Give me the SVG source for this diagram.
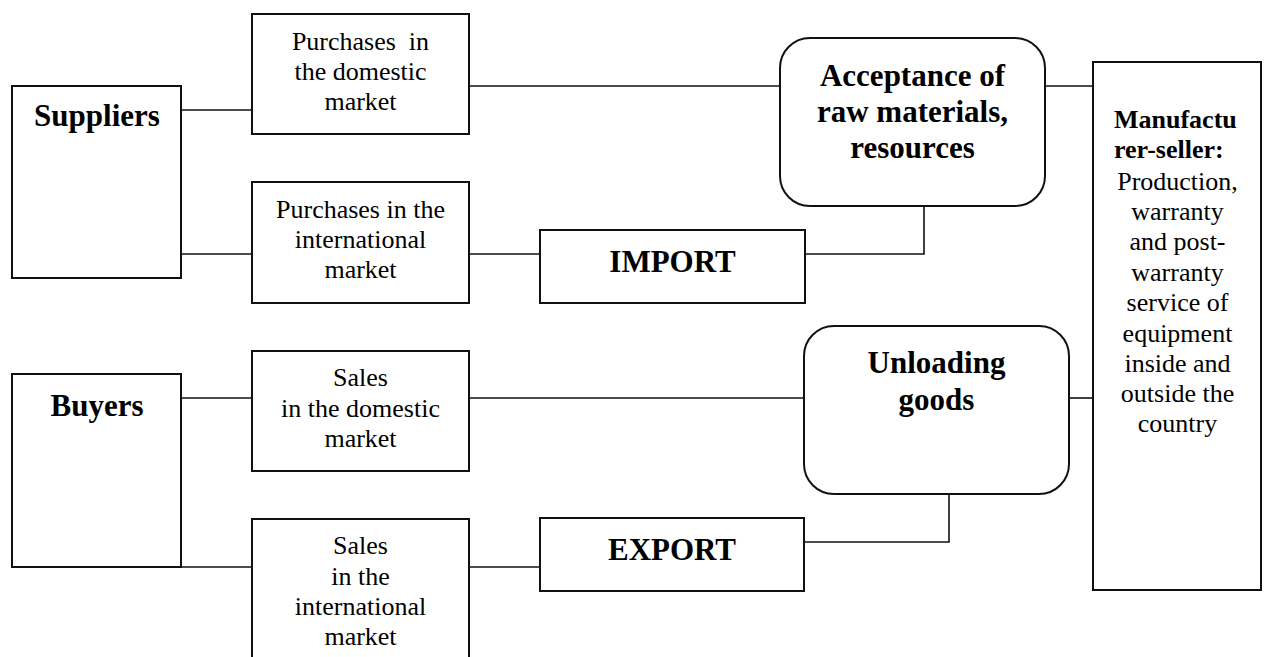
<svg xmlns="http://www.w3.org/2000/svg" width="1266" height="657" viewBox="0 0 1266 657">
  <style>
    .box { fill: #ffffff; stroke: #111111; stroke-width: 2; }
    .link { fill: none; stroke: #111111; stroke-width: 1.6; }
    .t { font-family: "Liberation Serif", "Times New Roman", serif; font-size: 26px; fill: #000000; text-anchor: middle; }
    .b { font-family: "Liberation Serif", "Times New Roman", serif; font-size: 31px; font-weight: bold; fill: #000000; text-anchor: middle; }
    .bs { font-family: "Liberation Serif", "Times New Roman", serif; font-size: 26px; font-weight: bold; fill: #000000; }
  </style>
  <rect width="1266" height="657" fill="#ffffff"/>

  <!-- connectors -->
  <g id="connectors">
    <path class="link" d="M181,110 H252"/>
    <path class="link" d="M181,254 H252"/>
    <path class="link" d="M469,86 H780"/>
    <path class="link" d="M469,254 H540"/>
    <path class="link" d="M805,254 H924 V206"/>
    <path class="link" d="M1045,86 H1093"/>
    <path class="link" d="M181,398 H252"/>
    <path class="link" d="M181,567 H252"/>
    <path class="link" d="M469,398 H804"/>
    <path class="link" d="M469,567 H540"/>
    <path class="link" d="M804,542 H949 V494"/>
    <path class="link" d="M1069,398 H1093"/>
  </g>

  <g id="suppliers">
    <rect class="box" x="12" y="86" width="169" height="192"/>
    <text class="b" x="97" y="126">Suppliers</text>
  </g>

  <g id="purchases-domestic">
    <rect class="box" x="252" y="14" width="217" height="120"/>
    <text class="t" x="360.5" y="50">Purchases&#160; in</text>
    <text class="t" x="360.5" y="80">the domestic</text>
    <text class="t" x="360.5" y="110">market</text>
  </g>

  <g id="purchases-international">
    <rect class="box" x="252" y="182" width="217" height="121"/>
    <text class="t" x="360.5" y="218">Purchases in the</text>
    <text class="t" x="360.5" y="248">international</text>
    <text class="t" x="360.5" y="278">market</text>
  </g>

  <g id="import">
    <rect class="box" x="540" y="230" width="265" height="73"/>
    <text class="b" x="672.5" y="272">IMPORT</text>
  </g>

  <g id="acceptance">
    <rect class="box" x="780" y="38" width="265" height="168" rx="30" ry="30"/>
    <text class="b" x="912.5" y="86">Acceptance of</text>
    <text class="b" x="912.5" y="122">raw materials,</text>
    <text class="b" x="912.5" y="158">resources</text>
  </g>

  <g id="manufacturer">
    <rect class="box" x="1093" y="62" width="168" height="528"/>
    <text class="bs" x="1114" y="128">Manufactu</text>
    <text class="bs" x="1114" y="158">rer-seller:</text>
    <text class="t" x="1177.5" y="190">Production,</text>
    <text class="t" x="1177.5" y="220">warranty</text>
    <text class="t" x="1177.5" y="250">and post-</text>
    <text class="t" x="1177.5" y="281">warranty</text>
    <text class="t" x="1177.5" y="311">service of</text>
    <text class="t" x="1177.5" y="342">equipment</text>
    <text class="t" x="1177.5" y="372">inside and</text>
    <text class="t" x="1177.5" y="402">outside the</text>
    <text class="t" x="1177.5" y="432">country</text>
  </g>

  <g id="buyers">
    <rect class="box" x="12" y="374" width="169" height="193"/>
    <text class="b" x="97" y="416">Buyers</text>
  </g>

  <g id="sales-domestic">
    <rect class="box" x="252" y="351" width="217" height="120"/>
    <text class="t" x="360.5" y="386">Sales</text>
    <text class="t" x="360.5" y="417">in the domestic</text>
    <text class="t" x="360.5" y="447">market</text>
  </g>

  <g id="sales-international">
    <rect class="box" x="252" y="519" width="217" height="160"/>
    <text class="t" x="360.5" y="554">Sales</text>
    <text class="t" x="360.5" y="585">in the</text>
    <text class="t" x="360.5" y="615">international</text>
    <text class="t" x="360.5" y="645">market</text>
  </g>

  <g id="export">
    <rect class="box" x="540" y="518" width="264" height="73"/>
    <text class="b" x="672" y="560">EXPORT</text>
  </g>

  <g id="unloading">
    <rect class="box" x="804" y="326" width="265" height="168" rx="30" ry="30"/>
    <text class="b" x="936.5" y="373">Unloading</text>
    <text class="b" x="936.5" y="410">goods</text>
  </g>
</svg>
